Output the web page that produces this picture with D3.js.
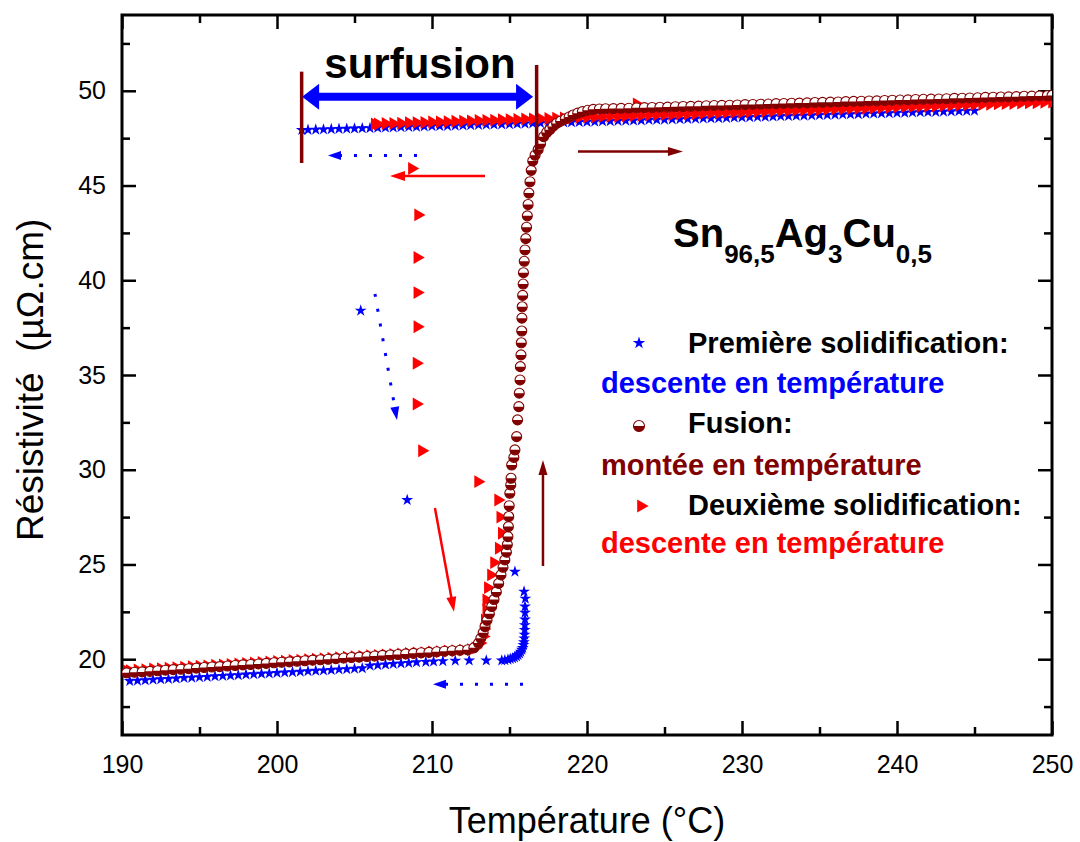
<!DOCTYPE html>
<html>
<head>
<meta charset="utf-8">
<script src="https://cdn.jsdelivr.net/npm/d3@7"></script>
<style>
body{margin:0;background:#fff;}
text{font-family:"Liberation Sans",Arial,sans-serif;}
</style>
</head>
<body>
<script>
// Première solidification (descente en température) : [T, rho]
var premiere = [
[245.0,48.95],[244.5,48.94],[244.0,48.93],[243.5,48.91],[243.0,48.90],[242.5,48.89],[242.0,48.88],[241.5,48.87],[241.0,48.86],[240.5,48.84],
[240.0,48.83],[239.5,48.82],[239.0,48.81],[238.5,48.80],[238.0,48.79],[237.5,48.77],[237.0,48.76],[236.5,48.75],[236.0,48.74],[235.5,48.73],
[235.0,48.72],[234.5,48.70],[234.0,48.69],[233.5,48.68],[233.0,48.67],[232.5,48.66],[232.0,48.64],[231.5,48.63],[231.0,48.62],[230.5,48.61],
[230.0,48.60],[229.5,48.59],[229.0,48.57],[228.5,48.56],[228.0,48.55],[227.5,48.54],[227.0,48.53],[226.5,48.52],[226.0,48.50],[225.5,48.49],
[225.0,48.48],[224.5,48.47],[224.0,48.46],[223.5,48.44],[223.0,48.43],[222.5,48.42],[222.0,48.41],[221.5,48.40],[221.0,48.39],[220.5,48.37],
[220.0,48.36],[219.5,48.35],[219.0,48.34],[218.5,48.33],[218.0,48.32],[217.5,48.30],[217.0,48.29],[216.5,48.28],[216.0,48.27],[215.5,48.26],
[215.0,48.24],[214.5,48.23],[214.0,48.22],[213.5,48.21],[213.0,48.20],[212.5,48.19],[212.0,48.17],[211.5,48.16],[211.0,48.15],[210.5,48.14],
[210.0,48.13],[209.5,48.12],[209.0,48.10],[208.5,48.09],[208.0,48.08],[207.5,48.07],[207.0,48.06],[206.5,48.05],[206.0,48.03],[205.5,48.02],
[205.0,48.01],[204.5,48.00],[204.0,47.99],[203.5,47.98],[203.0,47.96],[202.5,47.95],[202.0,47.94],[201.6,47.93],
[205.4,38.4],[208.4,28.4],[215.35,24.62],[215.94,23.57],[216.02,23.2],[216.0,22.78],[216.0,22.45],[216.0,22.1],[215.99,21.8],[215.98,21.55],
[215.97,21.3],[215.95,21.1],[215.93,20.9],[215.9,20.75],[215.85,20.6],[215.8,20.5],[215.72,20.4],[215.65,20.3],[215.55,20.22],[215.45,20.15],
[215.32,20.1],[215.2,20.05],[215.05,20.02],[214.9,19.98],[214.7,19.95],[214.5,19.93],[213.5,19.93],[212.4,19.93],[211.5,19.92],[210.7,19.9],
[210.1,19.88],[209.6,19.86],[209.0,19.84],[208.5,19.81],[208.0,19.78],[207.5,19.75],[207.0,19.72],[206.5,19.69],[206.0,19.66],[205.5,19.52],
[205.0,19.50],[204.5,19.48],[204.0,19.46],[203.5,19.43],[203.0,19.41],[202.5,19.39],[202.0,19.37],[201.5,19.34],[201.0,19.32],[200.5,19.30],
[200.0,19.28],[199.5,19.25],[199.0,19.23],[198.5,19.21],[198.0,19.19],[197.5,19.16],[197.0,19.14],[196.5,19.12],[196.0,19.10],[195.5,19.07],
[195.0,19.05],[194.5,19.03],[194.0,19.01],[193.5,18.98],[193.0,18.96],[192.5,18.94],[192.0,18.92],[191.5,18.89],[191.0,18.87],[190.5,18.85]
];

// Fusion (montée en température)
var fusion = [
[190.3,19.28],[190.8,19.31],[191.3,19.33],[191.8,19.36],[192.3,19.39],[192.8,19.42],[193.3,19.45],[193.8,19.47],[194.3,19.50],[194.8,19.53],
[195.3,19.56],[195.8,19.59],[196.3,19.61],[196.8,19.64],[197.3,19.67],[197.8,19.70],[198.3,19.72],[198.8,19.75],[199.3,19.78],[199.8,19.81],
[200.3,19.84],[200.8,19.86],[201.3,19.89],[201.8,19.92],[202.3,19.95],[202.8,19.97],[203.3,20.00],[203.8,20.03],[204.3,20.06],[204.8,20.09],
[205.3,20.11],[205.8,20.14],[206.3,20.17],[206.8,20.20],[207.3,20.22],[207.8,20.25],[208.3,20.28],[208.8,20.31],[209.3,20.34],[209.8,20.36],
[210.3,20.39],[210.8,20.42],[211.3,20.45],[211.8,20.47],[212.3,20.50],[212.7,20.6],[213.0,20.85],[213.15,21.1],[213.3,21.4],[213.42,21.72],
[213.55,22.05],[213.7,22.4],[213.85,22.78],[214.0,23.15],[214.15,23.55],[214.3,24.0],[214.45,24.45],[214.58,24.85],[214.7,25.24],[214.8,25.65],
[214.86,26.05],[214.9,26.47],[214.93,27.0],[214.95,27.53],[214.98,28.1],[215.02,28.76],[215.08,29.2],[215.1,29.55],[215.14,30.25],[215.28,30.65],
[215.35,31.05],[215.46,31.75],[215.52,32.63],[215.6,33.33],[215.63,34.04],[215.68,34.74],[215.7,35.44],[215.74,36.06],[215.76,36.7],[215.79,37.32],
[215.8,38.0],[215.82,38.6],[215.85,39.2],[215.88,39.8],[215.9,40.4],[215.95,41.0],[216.0,41.6],[216.05,42.2],[216.1,42.8],[216.15,43.4],
[216.2,44.0],[216.25,44.6],[216.32,45.2],[216.4,45.8],[216.5,46.3],[216.65,46.6],[216.85,46.9],[217.0,47.2],[217.2,47.58],[217.4,47.8],
[217.6,47.95],[217.8,48.12],[218.04,48.28],[218.3,48.4],[218.6,48.52],[218.85,48.62],[219.1,48.72],[219.4,48.82],[219.7,48.9],[220.05,48.97],
[220.4,49.02],[220.8,49.04],[221.2,49.05],[221.7,49.06],[222.2,49.07],[222.7,49.08],[223.2,49.10],[223.7,49.11],[224.2,49.12],[224.7,49.13],
[225.2,49.14],[225.7,49.16],[226.2,49.17],[226.7,49.18],[227.2,49.19],[227.7,49.21],[228.2,49.22],[228.7,49.23],[229.2,49.24],[229.7,49.25],
[230.2,49.27],[230.7,49.28],[231.2,49.29],[231.7,49.30],[232.2,49.32],[232.7,49.33],[233.2,49.34],[233.7,49.35],[234.2,49.36],[234.7,49.38],
[235.2,49.39],[235.7,49.40],[236.2,49.41],[236.7,49.43],[237.2,49.44],[237.7,49.45],[238.2,49.46],[238.7,49.47],[239.2,49.49],[239.7,49.50],
[240.2,49.51],[240.7,49.52],[241.2,49.54],[241.7,49.55],[242.2,49.56],[242.7,49.57],[243.2,49.58],[243.7,49.60],[244.2,49.61],[244.7,49.62],
[245.2,49.63],[245.7,49.65],[246.2,49.66],[246.7,49.67],[247.2,49.68],[247.7,49.69],[248.2,49.71],[248.7,49.72],[249.2,49.73],[249.7,49.74],[250.0,49.75]
];

// Deuxième solidification (descente en température)
var deuxieme = [
[250.0,49.40],[249.5,49.39],[249.0,49.37],[248.5,49.36],[248.0,49.35],[247.5,49.33],[247.0,49.32],[246.5,49.31],[246.0,49.29],[245.5,49.28],
[245.0,49.27],[244.5,49.25],[244.0,49.24],[243.5,49.23],[243.0,49.22],[242.5,49.20],[242.0,49.19],[241.5,49.18],[241.0,49.16],[240.5,49.15],
[240.0,49.14],[239.5,49.12],[239.0,49.11],[238.5,49.10],[238.0,49.08],[237.5,49.07],[237.0,49.06],[236.5,49.04],[236.0,49.03],[235.5,49.02],
[235.0,49.00],[234.5,48.99],[234.0,48.98],[233.5,48.97],[233.0,48.95],[232.5,48.94],[232.0,48.93],[231.5,48.91],[231.0,48.90],[230.5,48.89],
[230.0,48.87],[229.5,48.86],[229.0,48.85],[228.5,48.83],[228.0,48.82],[227.5,48.81],[227.0,48.79],[226.5,48.78],[226.0,48.77],[225.5,48.75],
[225.0,48.74],[224.5,48.73],[224.0,48.72],[223.5,48.70],[223.2,49.30],[223.0,48.69],[222.5,48.68],[222.0,48.66],[221.5,48.65],[221.0,48.64],
[220.5,48.62],[220.0,48.61],[219.5,48.60],[219.0,48.58],[218.5,48.57],[218.0,48.56],[217.5,48.54],[217.0,48.53],[216.5,48.52],[216.0,48.51],
[215.5,48.49],[215.0,48.48],[214.5,48.47],[214.0,48.45],[213.5,48.44],[213.0,48.43],[212.5,48.41],[212.0,48.40],[211.5,48.39],[211.0,48.37],
[210.5,48.36],[210.0,48.35],[209.5,48.33],[209.0,48.32],[208.5,48.31],[208.0,48.29],[207.5,48.28],[207.0,48.27],[206.5,48.25],[206.3,48.25],
[208.7,45.9],[209.1,43.45],[209.05,41.2],[209.05,39.35],[209.05,37.55],[209.0,35.62],[209.0,33.47],[209.35,31.0],[212.97,29.37],[214.26,28.4],
[214.4,27.5],[214.5,26.65],[214.3,25.86],[214.0,25.1],[213.8,24.45],[213.6,23.78],[213.5,23.13],[213.5,22.6],[213.4,22.07],[213.35,21.6],
[213.3,21.2],[213.1,20.85],[212.8,20.6],[212.5,20.5],[212.0,20.48],[211.5,20.45],[211.0,20.43],[210.5,20.40],[210.0,20.38],[209.5,20.35],
[209.0,20.33],[208.5,20.30],[208.0,20.28],[207.5,20.25],[207.0,20.23],[206.5,20.20],[206.0,20.18],[205.5,20.15],[205.0,20.13],[204.5,20.10],
[204.0,20.08],[203.5,20.05],[203.0,20.03],[202.5,20.00],[202.0,19.98],[201.5,19.95],[201.0,19.93],[200.5,19.90],[200.0,19.88],[199.5,19.85],
[199.0,19.83],[198.5,19.80],[198.0,19.78],[197.5,19.75],[197.0,19.73],[196.5,19.70],[196.0,19.68],[195.5,19.65],[195.0,19.63],[194.5,19.60],
[194.0,19.58],[193.5,19.55],[193.0,19.53],[192.5,19.50],[192.0,19.48],[191.5,19.45],[191.0,19.43],[190.5,19.40],[190.3,19.39]
];

var xMajor = [190,200,210,220,230,240,250];
var xMinor = [195,205,215,225,235,245];
var yMajor = [20,25,30,35,40,45,50];
var yMinor = [17.5,22.5,27.5,32.5,37.5,42.5,47.5,52.5];

// annotations in data units: [T1, rho1, T2, rho2]
var surfusionBars = [[201.59,51.01,201.59,46.19],[216.75,51.36,216.75,46.51]];
var surfusionArrow = [201.62,49.69,216.52,49.69];
var arrowsBlueDots = [[209.03,46.58,203.29,46.58],[206.32,39.28,207.74,32.63],[215.87,18.68,210.06,18.68]];
var arrowsRed = [[213.42,45.5,207.29,45.5],[210.19,27.98,211.42,22.5]];
var arrowsDarkRed = [[219.42,46.79,226.19,46.79],[217.16,24.92,217.16,30.52]];

var legendLabels = ["Première solidification:","Fusion:","Deuxième solidification:"];
var legendSub = ["descente en température","montée en température","descente en température"];
var colors = ["#0000ff","#800000","#ff0000"];

var svg = d3.select("body").append("svg").attr("width",1080).attr("height",842);

var x = d3.scaleLinear().domain([190,250]).range([122,1052]);
var y = d3.scaleLinear().domain([16,54]).range([735,15]);

svg.append("defs").append("clipPath").attr("id","plot")
  .append("rect").attr("x",122).attr("y",15).attr("width",930).attr("height",720);

// axes (ticks inward)
function tickStyle(g){
  g.select(".domain").remove();
  g.selectAll(".tick line").attr("stroke","#000").attr("stroke-width",2.5);
  g.selectAll("text").attr("font-size",25).attr("fill","#000").attr("font-family","Liberation Sans, Arial, sans-serif");
}
svg.append("g").attr("transform","translate(0,735)")
  .call(d3.axisBottom(x).tickValues(xMajor).tickSize(-14).tickPadding(20).tickFormat(d3.format("d"))).call(tickStyle);
svg.append("g").attr("transform","translate(0,735)")
  .call(d3.axisBottom(x).tickValues(xMinor).tickSize(-8).tickFormat("")).call(tickStyle);
svg.append("g").attr("transform","translate(0,15)")
  .call(d3.axisTop(x).tickValues(xMajor).tickSize(-14).tickFormat("")).call(tickStyle);
svg.append("g").attr("transform","translate(0,15)")
  .call(d3.axisTop(x).tickValues(xMinor).tickSize(-8).tickFormat("")).call(tickStyle);
svg.append("g").attr("transform","translate(122,0)")
  .call(d3.axisLeft(y).tickValues(yMajor).tickSize(-14).tickPadding(16).tickFormat(d3.format("d"))).call(tickStyle);
svg.append("g").attr("transform","translate(122,0)")
  .call(d3.axisLeft(y).tickValues(yMinor).tickSize(-8).tickFormat("")).call(tickStyle);
svg.append("g").attr("transform","translate(1052,0)")
  .call(d3.axisRight(y).tickValues(yMajor).tickSize(-14).tickFormat("")).call(tickStyle);
svg.append("g").attr("transform","translate(1052,0)")
  .call(d3.axisRight(y).tickValues(yMinor).tickSize(-8).tickFormat("")).call(tickStyle);

svg.append("rect").attr("x",122).attr("y",15).attr("width",930).attr("height",720)
  .attr("fill","none").attr("stroke","#000").attr("stroke-width",3);

// markers
var star = d3.symbol().type(d3.symbolStar).size(44);
var tri = d3.symbol().type(d3.symbolTriangle).size(72);
var R = 5;
function halfCircle(sel, r){
  sel.append("circle").attr("r",r).attr("fill","#fff").attr("stroke","#800000").attr("stroke-width",1.1);
  sel.append("path").attr("d","M"+(-r)+",0A"+r+","+r+" 0 0 0 "+r+",0Z").attr("fill","#800000");
}

var plot = svg.append("g").attr("clip-path","url(#plot)");

plot.append("g").selectAll("path")
  .data(premiere)
  .enter().append("path")
    .attr("d",star)
    .attr("fill","#0000ff")
    .attr("transform",function(d){ return "translate("+x(d[0])+","+y(d[1])+")"; });

plot.append("g").selectAll("path")
  .data(deuxieme)
  .enter().append("path")
    .attr("d",tri)
    .attr("fill","#ff0000")
    .attr("transform",function(d){ return "translate("+x(d[0])+","+y(d[1])+") rotate(90)"; });

plot.append("g").selectAll("g")
  .data(fusion)
  .enter().append("g")
    .attr("transform",function(d){ return "translate("+x(d[0])+","+y(d[1])+")"; })
    .call(halfCircle, R);

// annotations
var ann = svg.append("g");
function arrow(a, color, w, dash, hl, hw, both){
  var x1=x(a[0]), y1=y(a[1]), x2=x(a[2]), y2=y(a[3]);
  var dx=x2-x1, dy=y2-y1, len=Math.sqrt(dx*dx+dy*dy), ux=dx/len, uy=dy/len;
  var sx = both ? x1+ux*hl*0.8 : x1, sy = both ? y1+uy*hl*0.8 : y1;
  ann.append("line")
    .attr("x1",sx).attr("y1",sy)
    .attr("x2",x2-ux*hl*0.8).attr("y2",y2-uy*hl*0.8)
    .attr("stroke",color).attr("stroke-width",w)
    .attr("stroke-dasharray",dash ? dash : null);
  function head(px,py,vx,vy){
    var bx=px-vx*hl, by=py-vy*hl;
    ann.append("path")
      .attr("d","M"+px+","+py+"L"+(bx-vy*hw/2)+","+(by+vx*hw/2)+"L"+(bx+vy*hw/2)+","+(by-vx*hw/2)+"Z")
      .attr("fill",color);
  }
  head(x2,y2,ux,uy);
  if(both) head(x1,y1,-ux,-uy);
}

surfusionBars.forEach(function(a){
  ann.append("line")
    .attr("x1",x(a[0])).attr("y1",y(a[1]))
    .attr("x2",x(a[2])).attr("y2",y(a[3]))
    .attr("stroke","#800000").attr("stroke-width",3.5);
});
arrow(surfusionArrow,"#0000ff",8,null,17,26,true);
arrowsBlueDots.forEach(function(a){ arrow(a,"#0000ff",3,"3,12",13,9,false); });
arrowsRed.forEach(function(a){ arrow(a,"#ff0000",2.5,null,15,10,false); });
arrowsDarkRed.forEach(function(a){ arrow(a,"#800000",2.5,null,15,9,false); });

svg.append("text").attr("x",420).attr("y",78)
  .attr("text-anchor","middle").attr("font-size",42).attr("font-weight","bold")
  .text("surfusion");

// composition
var comp = svg.append("text").attr("x",673).attr("y",247).attr("font-weight","bold").attr("font-size",40);
[["Sn",false],["96,5",true],["Ag",false],["3",true],["Cu",false],["0,5",true]].forEach(function(p){
  comp.append("tspan")
    .attr("font-size",p[1] ? 26 : 40)
    .attr("dy",p[1] ? 16 : (p[0]=="Sn" ? 0 : -16))
    .text(p[0]);
});

// legend
var legY = [353,433,515];
var legSubY = [393,475,553];
var leg = svg.append("g");
leg.append("path").attr("d",d3.symbol().type(d3.symbolStar).size(48))
  .attr("fill","#0000ff").attr("transform","translate(639,343)");
leg.append("g").attr("transform","translate(639,426)").call(halfCircle,5.5);
leg.append("path").attr("d",d3.symbol().type(d3.symbolTriangle).size(75))
  .attr("fill","#ff0000").attr("transform","translate(641,506) rotate(90)");

leg.selectAll("text.lab")
  .data(legendLabels)
  .enter().append("text")
    .attr("class","lab")
    .attr("x",688).attr("y",function(d,i){ return legY[i]; })
    .attr("font-size",29).attr("font-weight","bold").attr("fill","#000")
    .text(function(d){ return d; });
leg.selectAll("text.sub")
  .data(legendSub)
  .enter().append("text")
    .attr("class","sub")
    .attr("x",601).attr("y",function(d,i){ return legSubY[i]; })
    .attr("font-size",29).attr("font-weight","bold")
    .attr("fill",function(d,i){ return colors[i]; })
    .text(function(d){ return d; });

// axis titles
svg.append("text").attr("x",587).attr("y",833)
  .attr("text-anchor","middle").attr("font-size",36)
  .text("Température (°C)");
svg.append("text").attr("transform","translate(43,541) rotate(-90)")
  .attr("text-anchor","start").attr("font-size",37)
  .text("Résistivité\u00a0\u00a0(µΩ.cm)");
</script>
</body>
</html>
